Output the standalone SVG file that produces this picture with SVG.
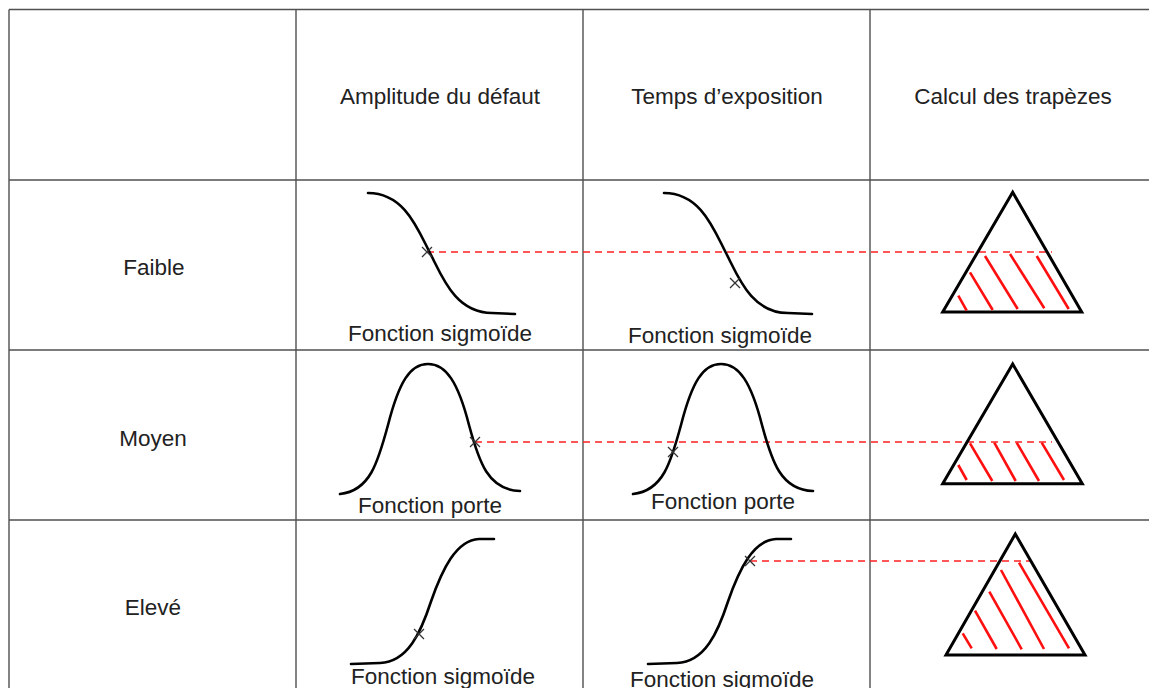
<svg xmlns="http://www.w3.org/2000/svg" width="1149" height="688" viewBox="0 0 1149 688">
<style>
.grid{stroke:#505050;stroke-width:1.4;fill:none}
.t{font-family:"Liberation Sans",Arial,sans-serif;font-size:22.5px;fill:#222;text-anchor:middle}
.curve{fill:none;stroke:#000;stroke-width:2.6;stroke-linecap:round}
.mk{stroke:#333;stroke-width:1.3;fill:none}
.tri{fill:none;stroke:#000;stroke-width:3;stroke-linejoin:miter}
.hatch{stroke:#ff1010;stroke-width:2.6;stroke-linecap:butt}
.dash{stroke:#ff2020;stroke-width:1.6;stroke-dasharray:7 5;fill:none}
</style>
<rect width="1149" height="688" fill="#fff"/>
<g id="table">
<path class="grid" d="M9,9.5 H1149 M9,9.5 V688 M296,9.5 V688 M583,9.5 V688 M870,9.5 V688 M9,180 H1149 M9,350 H1149 M9,520 H1149"/>
</g>
<g id="headers">
<text class="t" x="440" y="104">Amplitude du défaut</text>
<text class="t" x="727" y="104">Temps d’exposition</text>
<text class="t" x="1013" y="104">Calcul des trapèzes</text>
</g>
<g id="row-labels">
<text class="t" x="154" y="275">Faible</text>
<text class="t" x="153" y="446">Moyen</text>
<text class="t" x="153" y="615">Elevé</text>
</g>
<g id="connectors">
<line class="dash" x1="427" y1="252" x2="1052" y2="252"/>
<line class="dash" x1="475" y1="442" x2="1052" y2="442"/>
<line class="dash" x1="750" y1="561" x2="1032" y2="561"/>
</g>
<g id="faible-amplitude">
<path class="curve" d="M368,193 C405,193 418,230 430,253 C442,276 455,313 492,313 L515,314"/>
<path class="mk" d="M422,247 L432,257 M432,247 L422,257"/>
<text class="t" x="440" y="341">Fonction sigmoïde</text>
</g>
<g id="faible-temps">
<path class="curve" d="M664,193 C701,193 714,230 726,253 C738,276 751,313 788,313 L812,314"/>
<path class="mk" d="M730,278 L740,288 M740,278 L730,288"/>
<text class="t" x="720" y="343">Fonction sigmoïde</text>
</g>
<g id="faible-trapeze">
<path class="tri" d="M1012.7,192.3 L942.7,312 L1081.7,312 Z"/>
<path class="hatch" d="M958.3,295.7 L966.7,310.7 M970,272.3 L992.7,310 M985,256 L1017.7,309 M1010,254 L1044.3,308.3 M1036.7,256 L1068.7,309"/>
</g>
<g id="moyen-amplitude">
<path class="curve" d="M340,494 C370,491 378,462 388,425 C399,382 410,364 428,364 C446,364 458,382 469,425 C479,462 488,490 520,491"/>
<path class="mk" d="M470,437 L480,447 M480,437 L470,447"/>
<text class="t" x="430" y="513">Fonction porte</text>
</g>
<g id="moyen-temps">
<path class="curve" d="M633,494 C663,491 671,462 681,425 C692,382 703,364 721,364 C739,364 751,382 762,425 C772,462 781,490 813,491"/>
<path class="mk" d="M668,447 L678,457 M678,447 L668,457"/>
<text class="t" x="723" y="509">Fonction porte</text>
</g>
<g id="moyen-trapeze">
<path class="tri" d="M1012.7,364 L942.7,483.7 L1082.3,483.7 Z"/>
<path class="hatch" d="M958.3,465 L966.7,480 M970,443.3 L992.3,481 M994.3,442.7 L1015.7,481 M1016.7,442.7 L1039,481 M1041.7,442.7 L1064,480"/>
</g>
<g id="eleve-amplitude">
<path class="curve" d="M351,664 L380,663 C408,662 421,632 431,601.5 C442,570 456,540 479,539 L494,539"/>
<path class="mk" d="M414,629 L424,639 M424,629 L414,639"/>
<text class="t" x="443" y="684">Fonction sigmoïde</text>
</g>
<g id="eleve-temps">
<path class="curve" d="M648,664 L677,663 C705,662 718,632 728,601.5 C739,570 753,540 776,539 L791,539"/>
<path class="mk" d="M745,556 L755,566 M755,556 L745,566"/>
<text class="t" x="722" y="687">Fonction sigmoïde</text>
</g>
<g id="eleve-trapeze">
<path class="tri" d="M1015.3,534 L946,655 L1085,655 Z"/>
<path class="hatch" d="M962.7,633.3 L971.7,648.3 M975,610.7 L996.7,649 M989.3,591.7 L1021.7,649.3 M1001,570 L1044,649 M1019,562.7 L1069,648.3"/>
</g>
</svg>
